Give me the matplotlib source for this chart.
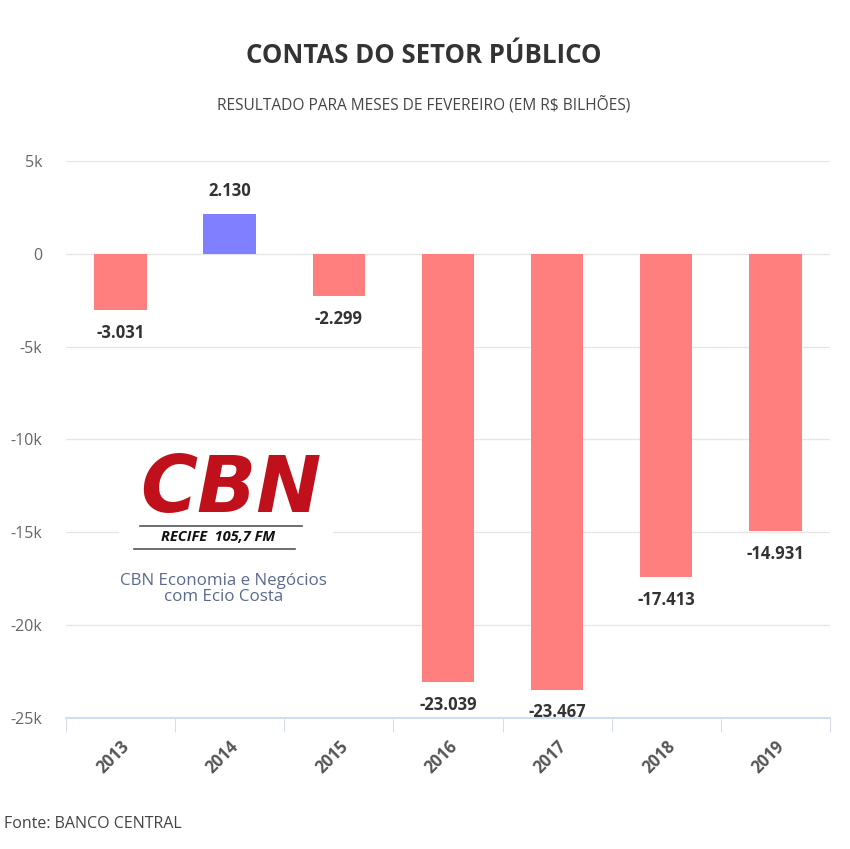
import matplotlib.pyplot as plt
import numpy as np

anos = ["2013", "2014", "2015", "2016", "2017", "2018", "2019"]
resultado = [-3031, 2130, -2299, -23039, -23467, -17413, -14931]
rotulos = ["-3.031", "2.130", "-2.299", "-23.039", "-23.467", "-17.413", "-14.931"]
yticks = [5000, 0, -5000, -10000, -15000, -20000, -25000]
ytick_labels = ["5k", "0", "-5k", "-10k", "-15k", "-20k", "-25k"]

plt.rcParams['font.family'] = ['Open Sans', 'DejaVu Sans']

fig = plt.figure(figsize=(8.5, 8.49), dpi=100)
ax = fig.add_axes([0.0776, 0.1543, 0.8988, 0.6561])

x = np.arange(len(anos))
cores = ["#ff7f7f" if v < 0 else "#7f7fff" for v in resultado]
ax.bar(x, resultado, width=0.48, color=cores, zorder=3)

for xi, v, r in zip(x, resultado, rotulos):
    if v < 0:
        ax.text(xi, v - 750, r, ha='center', va='top', fontsize=12,
                fontweight='bold', color='#333333', zorder=4)
    else:
        ax.text(xi, v + 750, r, ha='center', va='bottom', fontsize=12,
                fontweight='bold', color='#333333', zorder=4)

ax.set_xlim(-0.5, len(anos) - 0.5)
ax.set_ylim(-25000, 5000)
ax.set_yticks(yticks)
ax.set_yticklabels(ytick_labels)
ax.set_xticks(x)
ax.set_xticklabels(anos, rotation=45, ha='right', rotation_mode='anchor',
                   fontsize=12, fontweight='bold', color='#555555')
ax.set_xticks(np.arange(len(anos) + 1) - 0.5, minor=True)
ax.tick_params(axis='x', which='major', length=0, pad=14)
ax.tick_params(axis='x', which='minor', length=10, color='#ccd6eb')
ax.tick_params(axis='y', length=0, pad=17, labelsize=11.5, labelcolor='#666666')

ax.grid(axis='y', color='#e6e6e6', linewidth=1, zorder=0)
for s in ['top', 'right', 'left']:
    ax.spines[s].set_visible(False)
ax.spines['bottom'].set_color('#ccd6eb')
ax.spines['bottom'].set_linewidth(1.2)

# titulos
fig.text(0.498, 0.935, "CONTAS DO SETOR PÚBLICO", ha='center', va='center',
         fontsize=18.5, fontweight='bold', color='#333333')
fig.text(0.498, 0.876, "RESULTADO PARA MESES DE FEVEREIRO (EM R$ BILHÕES)",
         ha='center', va='center', fontsize=11.2, color='#444444')
fig.text(0.005, 0.03, "Fonte: BANCO CENTRAL", ha='left', va='center',
         fontsize=11.5, color='#444444')

# logo CBN
fig.patches.append(plt.Rectangle((0.14, 0.29), 0.252, 0.17, transform=fig.transFigure,
                                 facecolor='white', edgecolor='none', zorder=5))
fig.text(0.272, 0.423, "CBN", ha='center', va='center', fontsize=56,
         fontweight='black', fontstyle='italic', color='#c0101c', zorder=6,
         family=['DejaVu Sans'])
fig.add_artist(plt.Line2D([0.165, 0.355], [0.3804, 0.3804], color='#555555', lw=1.2, zorder=6))
fig.add_artist(plt.Line2D([0.158, 0.347], [0.3534, 0.3534], color='#555555', lw=1.2, zorder=6))
fig.text(0.256, 0.3675, "RECIFE  105,7 FM", ha='center', va='center', fontsize=10.5,
         fontweight='bold', fontstyle='italic', color='#111111', zorder=6)
fig.text(0.263, 0.3062, "CBN Economia e Negócios\ncom Ecio Costa", ha='center',
         va='center', fontsize=12.2, color='#5a6a8c', linespacing=1.05, zorder=6)

fig.savefig("out.png", dpi=100, facecolor='white')
